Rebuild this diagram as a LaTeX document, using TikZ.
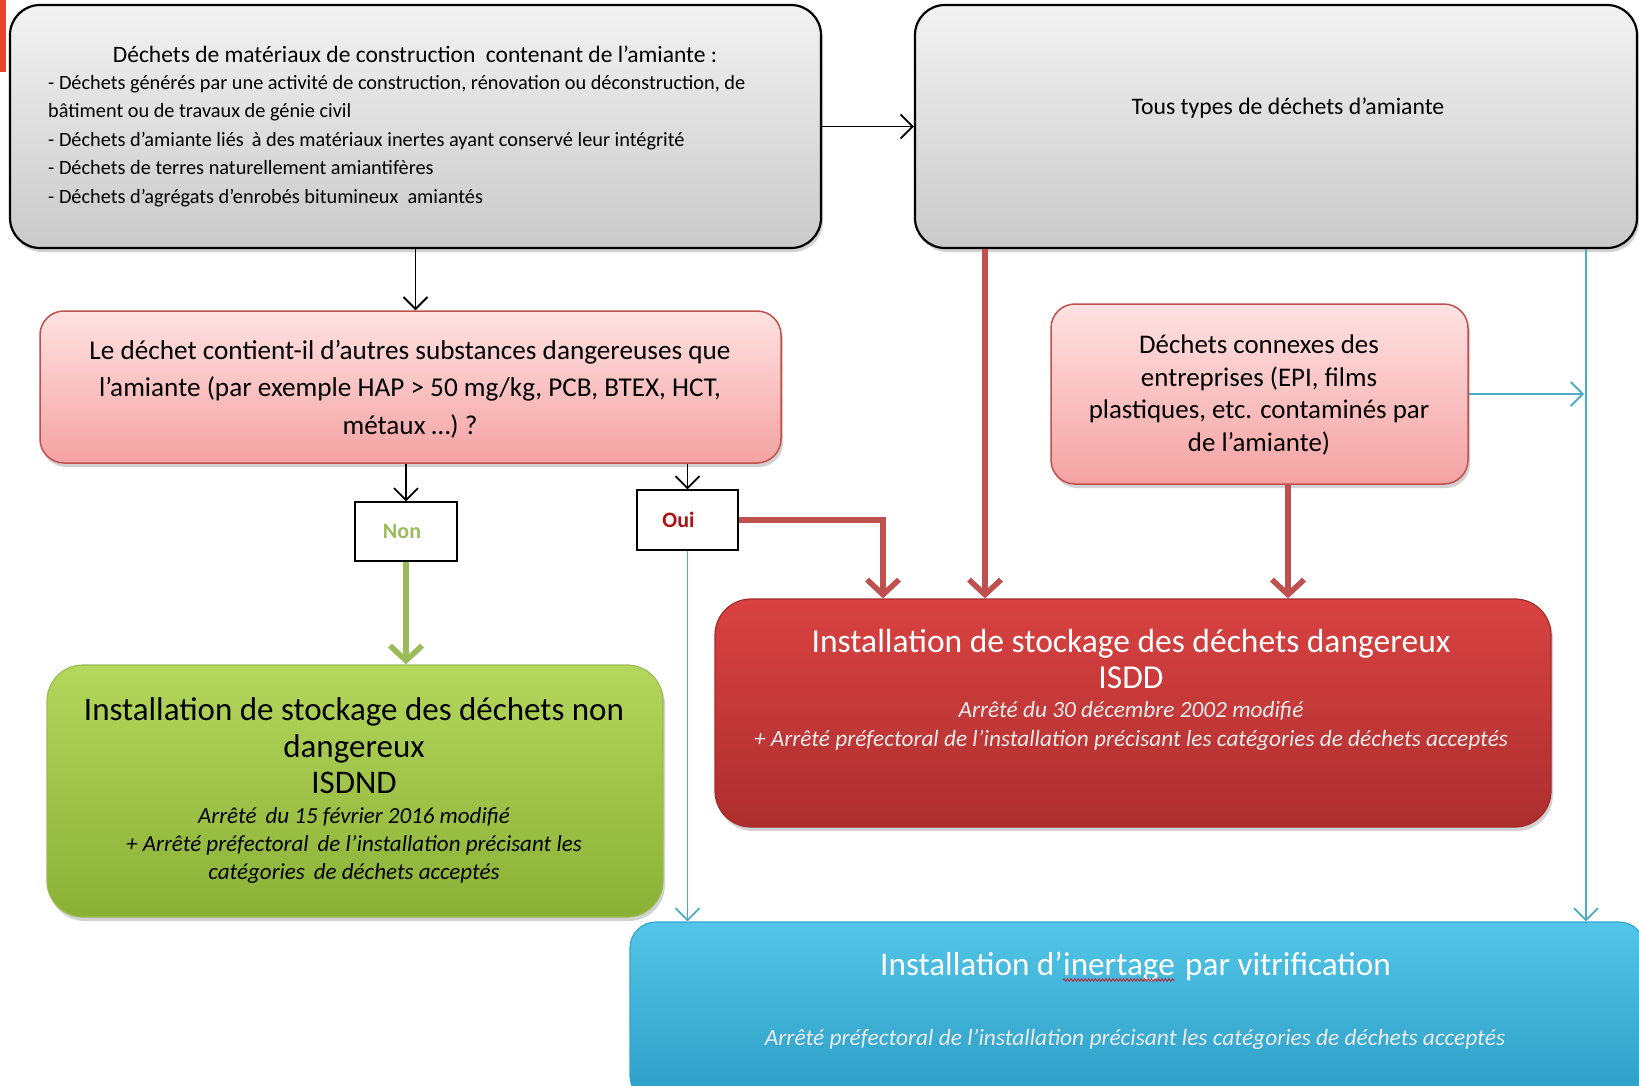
\documentclass[tikz,border=0pt]{standalone}
\usepackage{fontspec}
\setmainfont{Carlito}
\usetikzlibrary{arrows.meta,shadows,calc,decorations.pathmorphing}
\definecolor{pinktop}{HTML}{FFE2E2}
\definecolor{pinkbot}{HTML}{F4A2A2}
\definecolor{pinkborder}{HTML}{C0504D}
\definecolor{greentop}{HTML}{B4D65C}
\definecolor{greenbot}{HTML}{8AB136}
\definecolor{greenborder}{HTML}{9BBB59}
\definecolor{redtop}{HTML}{D94242}
\definecolor{redbot}{HTML}{AD2E2E}
\definecolor{redborder}{HTML}{A52A2A}
\definecolor{bluetop}{HTML}{52C5E8}
\definecolor{bluebot}{HTML}{2C9DC5}
\definecolor{blueborder}{HTML}{34A6CD}
\definecolor{arrred}{HTML}{C0504D}
\definecolor{arrgreen}{HTML}{9BBB59}
\definecolor{arrblue}{HTML}{4BACC6}
\definecolor{nongreen}{HTML}{9BBB59}
\definecolor{ouired}{HTML}{B01010}
\definecolor{cornerred}{HTML}{E2452A}
\definecolor{squig}{HTML}{B03040}
\tikzset{
  shad/.style={drop shadow={opacity=0.35, shadow xshift=2pt, shadow yshift=-4pt}},
  greybox/.style={draw=black, line width=2.2pt, rounded corners=30pt, top color=gray!10, bottom color=gray!42, shad, inner sep=0pt},
  pinkbox/.style={draw=pinkborder, line width=1.5pt, rounded corners=24pt, top color=pinktop, bottom color=pinkbot, shad, inner sep=0pt},
  greenbox/.style={draw=greenborder, line width=1.2pt, rounded corners=36pt, top color=greentop, bottom color=greenbot, shad, inner sep=0pt},
  redbox/.style={draw=redborder, line width=1.2pt, rounded corners=36pt, top color=redtop, bottom color=redbot, shad, inner sep=0pt},
  bluebox/.style={draw=blueborder, line width=1.2pt, rounded corners=26pt, top color=bluetop, bottom color=bluebot, shad, inner sep=0pt},
  answer/.style={draw=black, line width=1.2pt, fill=white, inner sep=0pt, font=\fontsize{22}{24}\selectfont\bfseries},
  txt/.style={inner sep=0pt, align=center},
  bluetitle/.style={inner sep=0pt, font=\fontsize{33.2}{35}\selectfont, text=white},
  blackarrow/.style={draw=black, line width=1.8pt, -{Straight Barb[length=12pt,width=24pt,line width=1.8pt]}},
  redarrow/.style={draw=arrred, line width=5.5pt, -{Straight Barb[length=15pt,width=32pt,line width=5.5pt]}},
  greenarrow/.style={draw=arrgreen, line width=5.5pt, -{Straight Barb[length=15pt,width=32pt,line width=5.5pt]}},
  bluearrow/.style={draw=arrblue, line width=1.8pt, -{Straight Barb[length=12pt,width=24pt,line width=1.8pt]}},
}
\begin{document}
\begin{tikzpicture}[x=1pt,y=-1pt]
\useasboundingbox (0,0) rectangle (1639,1085);
\clip (0,0) rectangle (1639,1085);
\fill[white] (0,0) rectangle (1639,1085);
\fill[cornerred] (0,0) rectangle (6,72);

% boxes
\node[greybox, minimum width=811pt, minimum height=243pt] (box1) at (415.5,126.5) {};
\node[greybox, minimum width=722pt, minimum height=243pt] (box2) at (1276,126.5) {};
\node[pinkbox, minimum width=741pt, minimum height=152pt] (quest) at (410.5,387) {};
\node[pinkbox, minimum width=417pt, minimum height=180pt] (conn) at (1259.5,394) {};
\node[answer, minimum width=102pt, minimum height=59pt, text=nongreen] (non) at (406,531.5) {\hspace*{-8pt}Non};
\node[answer, minimum width=101pt, minimum height=60pt, text=ouired] (oui) at (687.5,520) {\hspace*{-18pt}Oui};
\node[greenbox, minimum width=616pt, minimum height=252pt] (green) at (355,791) {};
\node[redbox, minimum width=836pt, minimum height=228pt] (red) at (1133,713) {};
\node[bluebox, minimum width=1015pt, minimum height=180pt] (blue) at (1137.5,1012) {};

% texts
\node[txt, font=\fontsize{23.5}{26}\selectfont] (t1title) at (415,54) {Déchets de matériaux de construction\ \ contenant de l’amiante :};
\node[txt, anchor=north west, align=left, font=\fontsize{20.3}{28.5}\selectfont] (t1list) at (48,75)
 {- Déchets générés par une activité de construction, rénovation ou déconstruction, de\\
  bâtiment ou de travaux de génie civil\\
  - Déchets d’amiante liés \,à des matériaux inertes ayant conservé leur intégrité\\
  - Déchets de terres naturellement amiantifères\\
  - Déchets d’agrégats d’enrobés bitumineux\ \ amiantés};
\node[txt, font=\fontsize{23.7}{26}\selectfont] (t2) at (1288,108) {Tous types de déchets d’amiante};
\node[txt, font=\fontsize{27.2}{37.5}\selectfont] (tq) at (410,389)
 {Le déchet contient-il d’autres substances dangereuses que\\
  l’amiante (par exemple HAP > 50 mg/kg, PCB, BTEX, HCT,\\
  métaux …) ?};
\node[txt, font=\fontsize{26.9}{32.5}\selectfont] (tc) at (1259,395)
 {Déchets connexes des\\ entreprises (EPI, films\\ plastiques, etc. contaminés par\\ de l’amiante)};
\node[txt, font=\fontsize{33}{36.5}\selectfont] (tg1) at (354,746)
 {Installation de stockage des déchets non\\ dangereux\\ ISDND};
\node[txt, font=\fontsize{23}{28}\selectfont\itshape] (tg2) at (354,845)
 {Arrêté\, du 15 février 2016 modifié\\ + Arrêté préfectoral\, de l’installation précisant les\\ catégories\, de déchets acceptés};
\node[txt, font=\fontsize{33.5}{36}\selectfont, text=white] (tr1) at (1131,659)
 {Installation de stockage des déchets dangereux\\ ISDD};
\node[txt, font=\fontsize{23.3}{29}\selectfont\itshape, text=white!92!black] (tr2) at (1131,726)
 {Arrêté du 30 décembre 2002 modifié\\ + Arrêté préfectoral de l’installation précisant les catégories de déchets acceptés};
\node[bluetitle, anchor=base west] (tb1a) at (880,975) {Installation d’};
\node[bluetitle, anchor=base west] (tb1b) at (tb1a.base east) {inertage};
\node[bluetitle, anchor=base west, xshift=10pt] (tb1c) at (tb1b.base east) {par vitrification};
\draw[squig, line width=1pt, decorate, decoration={snake, amplitude=1.2pt, segment length=3.5pt}]
  ([yshift=-5pt]tb1b.base west) -- ([yshift=-5pt]tb1b.base east);
\node[txt, font=\fontsize{23.4}{26}\selectfont\itshape, text=white!92!black] (tb2) at (1135,1039) {Arrêté préfectoral de l’installation précisant les catégories de déchets acceptés};

% coordinates for connector x positions
\coordinate (xo) at (883,0);
\coordinate (xb) at (985,0);
\coordinate (xc) at (1288,0);
\coordinate (xr) at (1586,0);

% connectors
\draw[blackarrow] (box1.east) -- (box2.west);
\draw[blackarrow] (box1.south) -- (box1.south |- quest.north);
\draw[blackarrow] (quest.south -| non.north) -- (non.north);
\draw[blackarrow] (quest.south -| oui.north) -- (oui.north);
\draw[greenarrow] (non.south) -- (non.south |- green.north);
\draw[redarrow] (oui.east) -| (xo |- red.north);
\draw[redarrow] (xb |- box2.south) -- (xb |- red.north);
\draw[redarrow] (xc |- conn.south) -- (xc |- red.north);
\draw[bluearrow] (conn.east) -- ([xshift=-2pt]xr |- conn.east);
\draw[bluearrow] (xr |- box2.south) -- (xr |- blue.north);
\draw[bluearrow] (oui.south) -- (oui.south |- blue.north);
\end{tikzpicture}
\end{document}
